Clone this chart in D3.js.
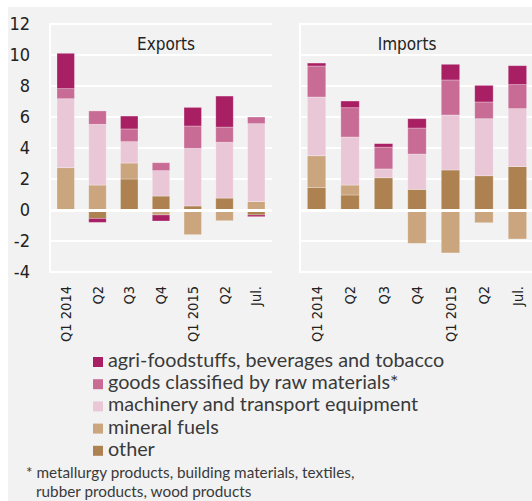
<!DOCTYPE html>
<html>
<head>
<meta charset="utf-8">
<script src="https://cdn.jsdelivr.net/npm/d3@7"></script>
<style>
    body { margin: 0; background: #fff; }
    .cond { font-family: "Liberation Sans Narrow", "DejaVu Sans Condensed", "DejaVu Sans", sans-serif; font-stretch: condensed; }
    .reg { font-family: Lato, "Open Sans", sans-serif; }
</style>
</head>
<body>
<div id="chart"></div>
<script>
// quarters on the x axis
const categories = ['Q1 2014', 'Q2', 'Q3', 'Q4', 'Q1 2015', 'Q2', 'Jul.'];
const seriesKeys = ['other', 'fuels', 'machinery', 'raw', 'agri'];
const seriesNames = {
    agri: 'agri-foodstuffs, beverages and tobacco',
    raw: 'goods classified by raw materials*',
    machinery: 'machinery and transport equipment',
    fuels: 'mineral fuels',
    other: 'other'
};
const legendOrder = ['agri', 'raw', 'machinery', 'fuels', 'other'];
const yTicks = [-4, -2, 0, 2, 4, 6, 8, 10, 12];

// exports, contribution per group
const expOther     = [0.00, -0.54, 2.00, 0.90, 0.26, 0.77, -0.32];
const expFuels     = [2.73, 1.61, 1.03, -0.32, -1.59, -0.69, 0.54];
const expMachinery = [4.45, 3.92, 1.38, 1.64, 3.72, 3.60, 5.03];
const expRaw       = [0.65, 0.86, 0.82, 0.51, 1.44, 0.98, 0.43];
const expAgri      = [2.28, -0.26, 0.83, -0.39, 1.20, 2.00, -0.11];

// imports
const impOther     = [1.46, 0.97, 2.08, 1.33, 2.58, 2.21, 2.80];
const impFuels     = [2.04, 0.64, -0.08, -2.15, -2.77, -0.82, -1.87];
const impMachinery = [3.79, 3.10, 0.57, 2.28, 3.55, 3.68, 3.74];
const impRaw       = [2.00, 1.89, 1.41, 1.68, 2.26, 1.08, 1.55];
const impAgri      = [0.19, 0.43, 0.22, 0.60, 1.01, 1.07, 1.22];

const colors = {
    agri: '#a81f63',
    raw: '#c86c96',
    machinery: '#eac7d7',
    fuels: '#caa57d',
    other: '#ad8250'
};

function toRows(other, fuels, machinery, raw, agri) {
    return categories.map((c, i) => ({
        i: i, cat: c,
        other: other[i], fuels: fuels[i], machinery: machinery[i], raw: raw[i], agri: agri[i]
    }));
}

const panels = [
    {title: 'Exports', rows: toRows(expOther, expFuels, expMachinery, expRaw, expAgri), x0: 50, x1: 272, tx: 166},
    {title: 'Imports', rows: toRows(impOther, impFuels, impMachinery, impRaw, impAgri), x0: 300, x1: 534, tx: 407}
];

const svgWidth = 532, svgHeight = 501;
const svg = d3.select('#chart').append('svg')
    .attr('width', svgWidth)
    .attr('height', svgHeight);

svg.append('rect')
    .attr('x', 8).attr('y', 7)
    .attr('width', svgWidth - 8).attr('height', svgHeight - 7)
    .attr('fill', '#f2f2f2');

const y = d3.scaleLinear().domain([-4, 12]).range([272, 24]);

const stack = d3.stack().keys(seriesKeys).offset(d3.stackOffsetDiverging);

// y labels, left panel only
svg.append('g')
    .selectAll('text')
    .data(yTicks)
    .enter().append('text')
    .attr('class', 'cond')
    .attr('x', 30)
    .attr('y', d => y(d))
    .attr('dy', '0.35em')
    .attr('text-anchor', 'end')
    .attr('font-size', 18)
    .attr('fill', '#222')
    .text(d => d);

panels.forEach(p => {
    const x = d3.scaleBand().domain(d3.range(categories.length))
        .range([p.x0, p.x1]).paddingInner(0.45).paddingOuter(0.22);
    const g = svg.append('g');

    // grid
    g.selectAll('.grid')
        .data(yTicks.filter(d => d !== 0))
        .enter().append('line')
        .attr('x1', p.x0).attr('x2', Math.min(p.x1, svgWidth))
        .attr('y1', d => y(d)).attr('y2', d => y(d))
        .attr('stroke', '#fff').attr('stroke-width', 2);
    g.append('line')
        .attr('x1', p.x0).attr('x2', p.x0)
        .attr('y1', y(12) - 1).attr('y2', y(-4) + 1)
        .attr('stroke', '#fff').attr('stroke-width', 2);

    g.append('text')
        .attr('class', 'cond')
        .attr('x', p.tx).attr('y', 50)
        .attr('text-anchor', 'middle')
        .attr('font-size', 17)
        .attr('fill', '#222')
        .text(p.title);

    const layers = stack(p.rows);
    g.selectAll('.layer')
        .data(layers)
        .enter().append('g')
        .attr('fill', d => colors[d.key])
        .selectAll('rect')
        .data(d => d)
        .enter().append('rect')
        .attr('x', d => x(d.data.i))
        .attr('width', x.bandwidth())
        .attr('y', d => y(Math.max(d[0], d[1])))
        .attr('height', d => Math.abs(y(d[0]) - y(d[1])))
        .attr('stroke', '#fff').attr('stroke-opacity', 0.35).attr('stroke-width', 0.8);

    // zero line over the bars
    g.append('line')
        .attr('x1', p.x0).attr('x2', Math.min(p.x1, svgWidth))
        .attr('y1', y(0) + 0.5).attr('y2', y(0) + 0.5)
        .attr('stroke', '#fff').attr('stroke-width', 3);

    g.selectAll('.xlab')
        .data(p.rows)
        .enter().append('text')
        .attr('class', 'cond')
        .attr('transform', d => 'translate(' + (x(d.i) + x.bandwidth() / 2) + ',286) rotate(-90)')
        .attr('dy', '0.35em')
        .attr('text-anchor', 'end')
        .attr('font-size', 14.5)
        .attr('fill', '#222')
        .text(d => d.cat);
});

// legend
const legend = svg.append('g');
legendOrder.forEach((k, i) => {
    const yy = 367 + i * 22.2;
    legend.append('rect')
        .attr('x', 93).attr('y', yy - 10)
        .attr('width', 10).attr('height', 10)
        .attr('fill', colors[k]);
    legend.append('text')
        .attr('class', 'reg')
        .attr('x', 108).attr('y', yy)
        .attr('font-size', 19.8)
        .attr('fill', '#3a3a3a')
        .text(seriesNames[k]);
});

svg.append('text')
    .attr('class', 'reg')
    .attr('x', 26).attr('y', 478)
    .attr('font-size', 15.3)
    .attr('fill', '#3a3a3a')
    .text('* metallurgy products, building materials, textiles,');
svg.append('text')
    .attr('class', 'reg')
    .attr('x', 36).attr('y', 497)
    .attr('font-size', 15.3)
    .attr('fill', '#3a3a3a')
    .text('rubber products, wood products');
</script>
</body>
</html>
